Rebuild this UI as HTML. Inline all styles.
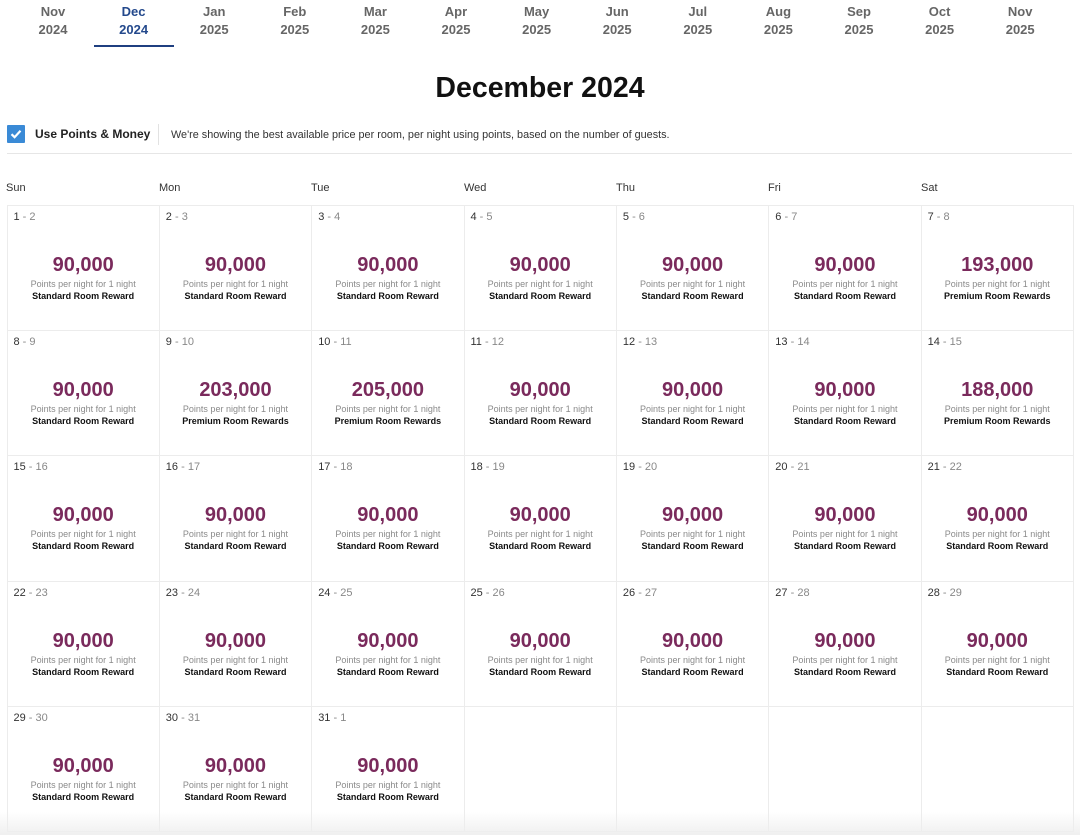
<!DOCTYPE html>
<html><head><meta charset="utf-8">
<style>
*{margin:0;padding:0;box-sizing:border-box}
html,body{width:1080px;height:835px;background:#fff;overflow:hidden;font-family:"Liberation Sans",Arial,sans-serif;position:relative}
.tab{position:absolute;top:3px;width:80.6px;text-align:center;font-weight:bold;font-size:13px;line-height:18px;color:#666}
.tab.act{color:#24498c}
.ul{position:absolute;left:94px;top:45px;width:80px;height:2px;background:#1f3f80}
.title{position:absolute;left:0;width:1080px;top:72px;text-align:center;font-weight:bold;font-size:28.5px;line-height:33px;color:#111}
.cb{position:absolute;left:7px;top:125px;width:18px;height:18px;background:#3a8ad6;border-radius:1px}
.upm{position:absolute;left:35px;top:127px;font-weight:bold;font-size:12px;color:#222}
.sep{position:absolute;left:158px;top:124px;width:1px;height:21px;background:#e2e2e2}
.desc{position:absolute;left:171px;top:129px;font-size:10.85px;color:#333}
.hr{position:absolute;left:7px;top:153px;width:1065px;height:1px;background:#e6e6e6}
.wd{position:absolute;top:182px;font-size:11px;color:#333}
.gridbox{position:absolute;left:6.5px;top:205px;width:1067px;height:627px;border-right:1px solid #ececec;border-bottom:1px solid #ececec}
.cell{position:absolute;width:152.35px;height:125.2px;border-left:1px solid #ececec;border-top:1px solid #ececec}
.dl{position:absolute;left:6px;top:5px;font-size:11px;color:#333}
.dl span{color:#888}
.pr{position:absolute;left:0;width:100%;top:47px;text-align:center;font-weight:bold;font-size:20px;color:#7a2a5c;line-height:24px}
.pp{position:absolute;left:0;width:100%;top:72px;text-align:center;font-size:9px;color:#8a8a8a;line-height:12px}
.rt{position:absolute;left:0;width:100%;top:84px;text-align:center;font-weight:bold;font-size:9px;color:#111;line-height:12px}
.fade{position:absolute;left:0;top:812px;width:1080px;height:23px;background:linear-gradient(rgba(245,245,245,0),rgba(238,238,238,0.9))}
</style></head><body>
<div class="tab" style="left:12.7px">Nov<br>2024</div>
<div class="tab act" style="left:93.3px">Dec<br>2024</div>
<div class="tab" style="left:173.9px">Jan<br>2025</div>
<div class="tab" style="left:254.5px">Feb<br>2025</div>
<div class="tab" style="left:335.1px">Mar<br>2025</div>
<div class="tab" style="left:415.7px">Apr<br>2025</div>
<div class="tab" style="left:496.3px">May<br>2025</div>
<div class="tab" style="left:576.9px">Jun<br>2025</div>
<div class="tab" style="left:657.5px">Jul<br>2025</div>
<div class="tab" style="left:738.1px">Aug<br>2025</div>
<div class="tab" style="left:818.7px">Sep<br>2025</div>
<div class="tab" style="left:899.3px">Oct<br>2025</div>
<div class="tab" style="left:979.9px">Nov<br>2025</div>
<div class="ul"></div>
<div class="title">December 2024</div>
<div class="cb"><svg width="18" height="18" viewBox="0 0 18 18"><path d="M4.5 9.2 L7.6 12.2 L13.5 5.8" fill="none" stroke="#fff" stroke-width="2.2"/></svg></div>
<div class="upm">Use Points &amp; Money</div>
<div class="sep"></div>
<div class="desc">We're showing the best available price per room, per night using points, based on the number of guests.</div>
<div class="hr"></div>
<div class="wd" style="left:6px">Sun</div>
<div class="wd" style="left:159px">Mon</div>
<div class="wd" style="left:311px">Tue</div>
<div class="wd" style="left:464px">Wed</div>
<div class="wd" style="left:616px">Thu</div>
<div class="wd" style="left:768px">Fri</div>
<div class="wd" style="left:921px">Sat</div>
<div class="gridbox"></div>
<div id="grid"></div>
<script>
(function(){
var data=[
["1","2","90,000","S"],["2","3","90,000","S"],["3","4","90,000","S"],["4","5","90,000","S"],["5","6","90,000","S"],["6","7","90,000","S"],["7","8","193,000","P"],
["8","9","90,000","S"],["9","10","203,000","P"],["10","11","205,000","P"],["11","12","90,000","S"],["12","13","90,000","S"],["13","14","90,000","S"],["14","15","188,000","P"],
["15","16","90,000","S"],["16","17","90,000","S"],["17","18","90,000","S"],["18","19","90,000","S"],["19","20","90,000","S"],["20","21","90,000","S"],["21","22","90,000","S"],
["22","23","90,000","S"],["23","24","90,000","S"],["24","25","90,000","S"],["25","26","90,000","S"],["26","27","90,000","S"],["27","28","90,000","S"],["28","29","90,000","S"],
["29","30","90,000","S"],["30","31","90,000","S"],["31","1","90,000","S"],null,null,null,null];
var h="";
for(var i=0;i<35;i++){
 var c=i%7,r=Math.floor(i/7);
 var x=6.5+c*152.35,y=205+r*125.2;
 h+='<div class="cell" style="left:'+x.toFixed(1)+'px;top:'+y.toFixed(1)+'px">';
 var d=data[i];
 if(d){
  h+='<div class="dl">'+d[0]+'<span> - '+d[1]+'</span></div>';
  h+='<div class="pr">'+d[2]+'</div>';
  h+='<div class="pp">Points per night for 1 night</div>';
  h+='<div class="rt">'+(d[3]=="S"?"Standard Room Reward":"Premium Room Rewards")+'</div>';
 }
 h+='</div>';
}
document.getElementById("grid").innerHTML=h;
})();
</script>
<div class="fade"></div>
</body></html>
